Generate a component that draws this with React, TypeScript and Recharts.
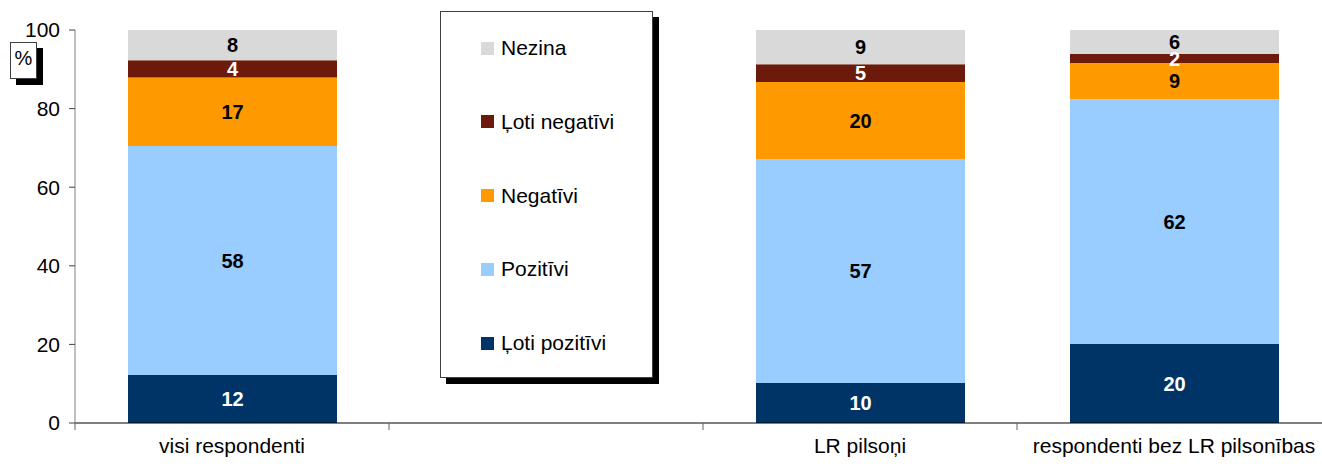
import { BarChart, Bar, XAxis, YAxis, LabelList } from 'recharts';

const categories = ['visi respondenti', '', 'LR pilsoņi', 'respondenti bez LR pilsonības'];
const lotiPozitivi = [12.2, null, 10.2, 20.1];
const pozitivi = [58.3, null, 56.9, 62.3];
const negativi = [17.4, null, 19.7, 9.2];
const lotiNegativi = [4.4, null, 4.5, 2.3];
const nezina = [7.7, null, 8.7, 6.1];
const yTicks = [0, 20, 40, 60, 80, 100];

const series = [
  { key: 'lotiPozitivi', name: 'Ļoti pozitīvi', color: '#003366', text: '#ffffff', values: lotiPozitivi },
  { key: 'pozitivi', name: 'Pozitīvi', color: '#99ccff', text: '#000000', values: pozitivi },
  { key: 'negativi', name: 'Negatīvi', color: '#ff9900', text: '#000000', values: negativi },
  { key: 'lotiNegativi', name: 'Ļoti negatīvi', color: '#6b1a0c', text: '#ffffff', values: lotiNegativi },
  { key: 'nezina', name: 'Nezina', color: '#d9d9d9', text: '#000000', values: nezina },
];

const data = categories.map((c, i) => {
  const row: any = { name: c };
  series.forEach(s => { row[s.key] = s.values[i]; });
  return row;
});

const font = '"Liberation Sans", Arial, sans-serif';

const CHART_W = 1340;
const Y_AXIS_W = 75;
const MARGIN_R = 9;
const TICK_MARGIN = 15;
const step = (CHART_W - Y_AXIS_W - MARGIN_R) / categories.length;

const fmt = (v: any) => (v == null ? '' : Math.round(Number(v)));

// category label plus the tick mark on the category's left boundary
const CatTick = ({ x, y, payload }: any) => {
  const top = y - TICK_MARGIN;
  return (
    <g>
      <line x1={x - step / 2} x2={x - step / 2} y1={top} y2={top + 7} stroke="#606060" />
      <text x={x} y={y} dy="0.71em" textAnchor="middle" fill="#000" fontSize={21} fontFamily={font}>
        {payload.value}
      </text>
    </g>
  );
};

// legend drawn as a boxed overlay, top entry = top of stack
const LegendBox = () => (
  <div
    style={{
      position: 'absolute',
      left: 440,
      top: 11,
      width: 211,
      height: 365,
      border: '1px solid #404040',
      background: '#fff',
      boxShadow: '6px 6px 0 #000',
      fontFamily: font,
      fontSize: 21,
    }}
  >
    {[...series].reverse().map((s, i) => (
      <div
        key={s.key}
        style={{ position: 'absolute', left: 40, top: 24 + i * 73.8, display: 'flex', alignItems: 'center', color: '#000' }}
      >
        <span style={{ width: 13, height: 13, background: s.color, marginRight: 7, display: 'inline-block' }} />
        <span>{s.name}</span>
      </div>
    ))}
  </div>
);

export default function App() {
  return (
    <div style={{ position: 'absolute', left: 0, top: 0, width: 1322, height: 464, overflow: 'hidden', background: '#fff' }}>
      <BarChart
        width={CHART_W}
        height={464}
        data={data}
        margin={{ top: 30, right: MARGIN_R, bottom: 0, left: 0 }}
        barSize={209}
      >
        <XAxis
          dataKey="name"
          height={41}
          axisLine={{ stroke: '#000' }}
          tickLine={false}
          tickSize={0}
          tickMargin={TICK_MARGIN}
          interval={0}
          tick={CatTick}
        />
        <YAxis
          width={Y_AXIS_W}
          domain={[0, 100]}
          ticks={yTicks}
          axisLine={{ stroke: '#808080' }}
          tickLine={{ stroke: '#404040' }}
          tickSize={6}
          tickMargin={9}
          tick={{ fill: '#000', fontSize: 21, fontFamily: font }}
        />
        {series.map(s => (
          <Bar key={s.key} dataKey={s.key} name={s.name} stackId="a" fill={s.color} isAnimationActive={false}>
            <LabelList
              dataKey={s.key}
              position="center"
              formatter={fmt}
              fill={s.text}
              style={{ fontSize: 20, fontWeight: 'bold', fontFamily: font }}
            />
          </Bar>
        ))}
      </BarChart>
      <LegendBox />
      <div
        style={{
          position: 'absolute',
          left: 10,
          top: 42,
          width: 25,
          height: 35,
          border: '1px solid #404040',
          background: '#fff',
          boxShadow: '6px 6px 0 #000',
          fontFamily: font,
          fontSize: 20,
          textAlign: 'center',
          lineHeight: '30px',
        }}
      >
        %
      </div>
    </div>
  );
}
